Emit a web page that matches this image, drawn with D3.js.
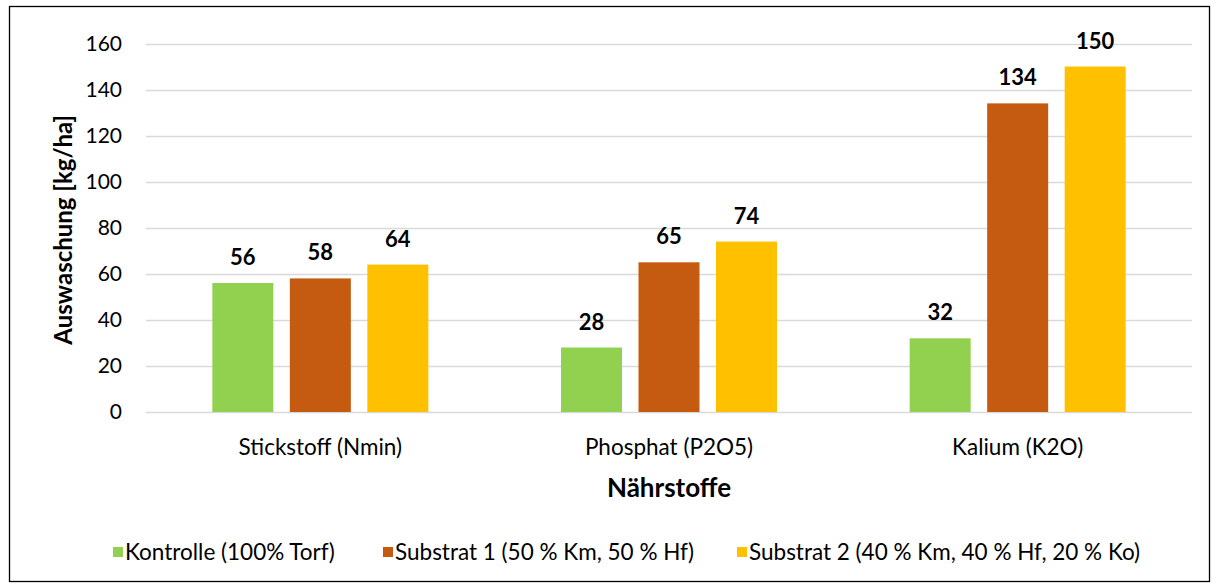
<!DOCTYPE html>
<html>
<head>
<meta charset="utf-8">
<script src="https://cdn.jsdelivr.net/npm/d3@7"></script>
<style>
  body { margin: 0; background: #fff; }
  svg { display: block; font-family: Lato, "Open Sans", sans-serif; }
</style>
</head>
<body>
<div id="chart"></div>
<script>
// Daten
const categories = ["Stickstoff (Nmin)", "Phosphat (P2O5)", "Kalium (K2O)"];
const seriesNames = ["Kontrolle (100% Torf)", "Substrat 1 (50 % Km, 50 % Hf)", "Substrat 2 (40 % Km, 40 % Hf, 20 % Ko)"];
const seriesColors = ["#92d050", "#c55a11", "#ffc000"];
const kontrolle = [56, 28, 32];
const substrat1 = [58, 65, 134];
const substrat2 = [64, 74, 150];
const yTicks = [0, 20, 40, 60, 80, 100, 120, 140, 160];

const seriesValues = [kontrolle, substrat1, substrat2];

const W = 1219, H = 588;
const plot = {left: 146, right: 1192, top: 43.5, bottom: 412};
const fontFam = "Lato, 'Open Sans', sans-serif";

const svg = d3.select("#chart").append("svg")
  .attr("width", W).attr("height", H);

// Rahmen
svg.append("rect")
  .attr("x", 9.5).attr("y", 6.5)
  .attr("width", 1200).attr("height", 575)
  .attr("fill", "#fff").attr("stroke", "#000").attr("stroke-width", 1.3);

const x0 = d3.scaleBand()
  .domain(categories)
  .range([plot.left, plot.right])
  .paddingInner(0).paddingOuter(0);

const y = d3.scaleLinear().domain([0, 160]).range([plot.bottom, plot.top]);

// Gitterlinien
svg.append("g")
  .selectAll("line")
  .data(yTicks)
  .join("line")
  .attr("x1", plot.left).attr("x2", plot.right)
  .attr("y1", d => Math.round(y(d)) + 0.5).attr("y2", d => Math.round(y(d)) + 0.5)
  .attr("stroke", "#d9d9d9").attr("stroke-width", 1.3);

// Y-Achse Beschriftung
const yAxis = d3.axisLeft(y).tickValues(yTicks).tickSize(0).tickPadding(0);
const gy = svg.append("g")
  .attr("transform", `translate(${plot.left - 24},0)`)
  .call(yAxis);
gy.select(".domain").remove();
gy.selectAll("text")
  .attr("font-family", fontFam)
  .attr("font-size", 21)
  .attr("fill", "#000");

// Balken
const barW = 61, gap = 16.5;
const groupW = 3 * barW + 2 * gap;

const groups = svg.append("g")
  .selectAll("g")
  .data(categories)
  .join("g")
  .attr("transform", d => `translate(${x0(d) + x0.bandwidth() / 2 - groupW / 2},0)`);

groups.selectAll("rect")
  .data((d, i) => seriesValues.map((s, j) => ({v: s[i], j})))
  .join("rect")
  .attr("x", d => d.j * (barW + gap))
  .attr("y", d => y(d.v))
  .attr("width", barW)
  .attr("height", d => y(0) - y(d.v))
  .attr("fill", d => seriesColors[d.j]);

groups.selectAll("text")
  .data((d, i) => seriesValues.map((s, j) => ({v: s[i], j})))
  .join("text")
  .attr("x", d => d.j * (barW + gap) + barW / 2)
  .attr("y", d => y(d.v) - 18)
  .attr("text-anchor", "middle")
  .attr("font-size", 22)
  .attr("font-weight", "bold")
  .attr("fill", "#000")
  .text(d => d.v);

// X-Achse Beschriftung
svg.append("g")
  .selectAll("text")
  .data(categories)
  .join("text")
  .attr("x", d => x0(d) + x0.bandwidth() / 2)
  .attr("y", 455)
  .attr("text-anchor", "middle")
  .attr("font-size", 22.5)
  .attr("fill", "#000")
  .text(d => d);

// Achsentitel
svg.append("text")
  .attr("x", (plot.left + plot.right) / 2)
  .attr("y", 497)
  .attr("text-anchor", "middle")
  .attr("font-size", 26)
  .attr("font-weight", "bold")
  .text("Nährstoffe");

svg.append("text")
  .attr("transform", `translate(72,${(plot.top + plot.bottom) / 2 + 2}) rotate(-90)`)
  .attr("text-anchor", "middle")
  .attr("font-size", 24)
  .attr("font-weight", "bold")
  .text("Auswaschung [kg/ha]");

// Legende
const legendX = [113, 383, 737];
const legend = svg.append("g")
  .selectAll("g")
  .data(seriesNames)
  .join("g")
  .attr("transform", (d, i) => `translate(${legendX[i]},552)`);

legend.append("rect")
  .attr("x", 0).attr("y", -5)
  .attr("width", 10).attr("height", 10)
  .attr("fill", (d, i) => seriesColors[i]);

legend.append("text")
  .attr("x", 12).attr("y", 8)
  .attr("font-size", 22.5)
  .attr("fill", "#000")
  .text(d => d);
</script>
</body>
</html>
